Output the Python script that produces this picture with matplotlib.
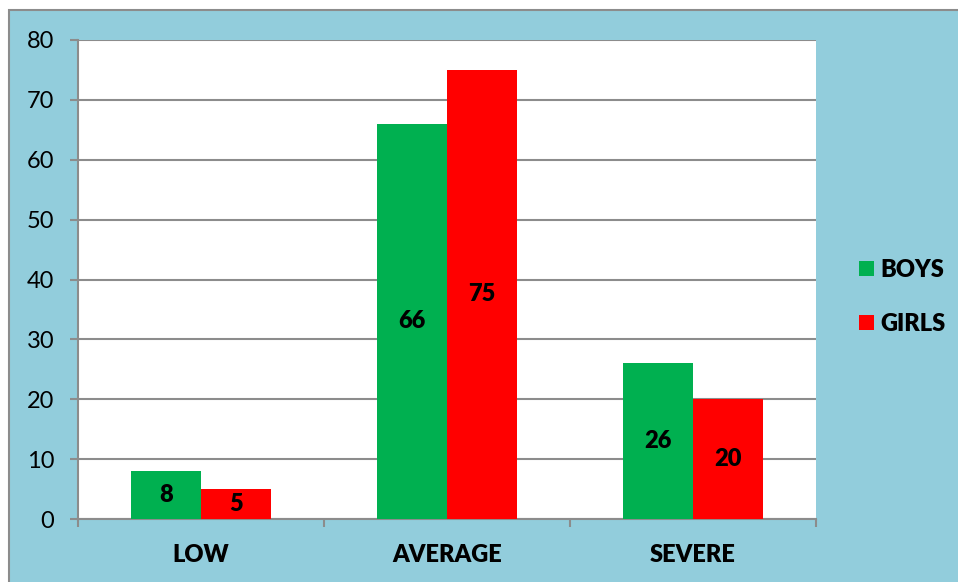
import numpy as np
import matplotlib.pyplot as plt
from matplotlib.patches import Rectangle

categories = ['LOW', 'AVERAGE', 'SEVERE']
boys = [8, 66, 26]
girls = [5, 75, 20]

plt.rcParams['font.family'] = ['Lato', 'DejaVu Sans']

bg = '#92CDDC'
grid_col = '#8C8C8C'
fs = 17

fig = plt.figure(figsize=(9.58, 5.82), dpi=100, facecolor='white')
W, H = 958, 582
# light blue chart area with a grey outline (runs off the right and bottom edges)
fig.patches.append(Rectangle((9 / W, -0.1), 1, 1.1 - 10 / H, transform=fig.transFigure,
                             facecolor=bg, edgecolor=grid_col, linewidth=1.5, zorder=-1))

ax = fig.add_axes([78 / W, 1 - 519 / H, (816 - 78) / W, (519 - 40) / H])
ax.set_facecolor('white')

x = np.arange(len(categories))
w = 1 / 3.5
b1 = ax.bar(x - w / 2, boys, w, color='#00B050', label='BOYS', zorder=3)
b2 = ax.bar(x + w / 2, girls, w, color='#FF0000', label='GIRLS', zorder=3)

for bars, vals in ((b1, boys), (b2, girls)):
    for r, v in zip(bars, vals):
        ax.text(r.get_x() + r.get_width() / 2, v / 2, str(v), ha='center', va='center',
                fontsize=fs, fontweight='heavy', color='black', zorder=4)

ax.set_xlim(-0.5, 2.5)
ax.set_ylim(0, 80)
ax.set_yticks(range(0, 81, 10))
ax.yaxis.grid(True, color=grid_col, linewidth=1.5, zorder=0)
ax.set_axisbelow(True)

# boundaries between categories get the tick marks, labels sit at the centres
ax.set_xticks([-0.5, 0.5, 1.5, 2.5])
ax.set_xticklabels([])
ax.set_xticks(x, minor=True)
ax.set_xticklabels(categories, minor=True, fontsize=fs, fontweight='heavy')
ax.tick_params(axis='x', which='major', length=6, width=1.5, color=grid_col, direction='out')
ax.tick_params(axis='x', which='minor', length=0, pad=18)
ax.tick_params(axis='y', length=6, width=1.5, color=grid_col, labelsize=fs, pad=11)

for s in ('top', 'right'):
    ax.spines[s].set_visible(False)
for s in ('left', 'bottom'):
    ax.spines[s].set_color(grid_col)
    ax.spines[s].set_linewidth(1.5)

ax.legend(loc='center left', bbox_to_anchor=(1.03, 0.463), frameon=False,
          prop={'weight': 'heavy', 'size': fs}, handlelength=0.6, handleheight=0.6,
          handletextpad=0.3, labelspacing=1.35)

fig.savefig('out.png', dpi=100, facecolor='white')
